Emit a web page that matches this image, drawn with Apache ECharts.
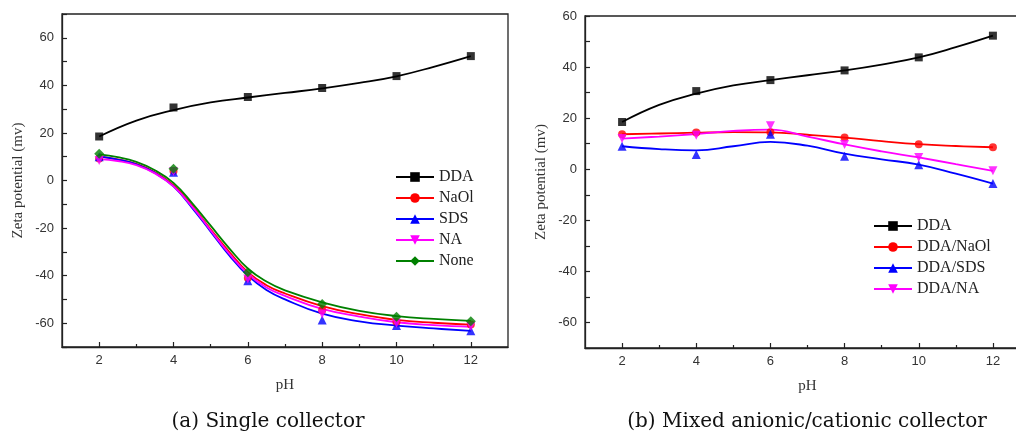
<!DOCTYPE html>
<html>
<head>
<meta charset="utf-8">
<script src="https://cdn.jsdelivr.net/npm/echarts@6/dist/echarts.min.js"></script>
<style>
html,body{margin:0;padding:0;background:#fff;}
#chart{width:1016px;height:434px;}
</style>
</head>
<body>
<div id="chart"></div>
<script>
// ---------- data ----------
const pH = [2, 4, 6, 8, 10, 12];
const xTickLabels = [2, 4, 6, 8, 10, 12];
const yTickLabels = [-60, -40, -20, 0, 20, 40, 60];

// (a) single collector: measured points
const a_DDA  = [18.5, 30.7, 35.1, 38.9, 43.9, 52.3];
const a_NaOl = [9.2, 4.0, -41.0, -54.5, -59.5, -60.5];
const a_SDS  = [10.0, 3.5, -42.1, -58.7, -61.0, -63.2];
const a_NA   = [8.4, 3.8, -41.4, -56.1, -60.0, -61.3];
const a_None = [11.2, 4.9, -38.6, -51.9, -57.3, -59.2];

// (a) fitted curves
const fitPH   = [2, 2.5, 3, 3.5, 4, 4.5, 5, 5.5, 6, 6.5, 7, 8, 9, 10, 11, 12];
const fitNone = [11.0, 9.8, 7.8, 4.3, -1.0, -9.5, -19.0, -28.5, -37.0, -42.5, -46.2, -51.2, -54.8, -57.0, -58.2, -59.0];
const fitNaOl = [10.0, 8.9, 7.0, 3.5, -2.0, -10.5, -20.5, -30.0, -38.5, -44.0, -47.5, -52.8, -56.2, -58.6, -59.8, -60.6];
const fitNA   = [9.0, 8.2, 6.5, 3.0, -2.5, -11.0, -21.0, -30.8, -39.2, -45.0, -48.5, -54.0, -57.2, -59.6, -60.8, -61.5];
const fitSDS  = [10.1, 8.8, 6.8, 3.2, -2.5, -11.5, -21.5, -31.5, -40.0, -46.0, -50.0, -56.0, -59.2, -61.0, -62.2, -63.2];

// DDA curve (both panels)
const curvePH = [2, 3, 4, 5, 6, 7, 8, 9, 10, 11, 12];
const fitDDA  = [18.5, 25.2, 29.6, 32.8, 34.9, 36.8, 38.7, 41.0, 43.8, 47.8, 52.3];

// (b) mixed collector: measured points
const b_DDA     = [18.5, 30.6, 34.9, 38.7, 43.8, 52.3];
const b_DDANaOl = [13.7, 14.4, 14.5, 12.4, 9.8, 8.6];
const b_DDASDS  = [9.0, 5.8, 13.7, 5.1, 1.8, -5.6];
const b_DDANA   = [12.0, 13.3, 17.0, 9.7, 4.6, -0.6];

// (b) curves
const fitB_NaOl = [13.7, 14.0, 14.3, 14.5, 14.4, 13.5, 12.4, 11.0, 9.8, 9.1, 8.6];
const fitB_SDS  = [9.0, 7.9, 7.4, 9.0, 10.7, 9.2, 6.1, 3.9, 1.8, -1.7, -5.6];
const fitB_NA   = [12.0, 12.8, 13.8, 15.0, 15.5, 12.8, 9.7, 7.0, 4.6, 2.0, -0.6];

const captions = ['(a) Single collector', '(b) Mixed anionic/cationic collector'];

// ---------- helpers ----------
const zip = (xs, ys) => xs.map((x, i) => [x, ys[i]]);
const AX = '#222';
const sansLabel = {color: '#333', fontFamily: 'Liberation Sans, Arial, sans-serif', fontSize: 13};
const serifName = {color: '#333', fontFamily: 'Liberation Serif, Times New Roman, serif', fontSize: 15};

function xAxes(gridIndex) {
  return [{
    type: 'value', gridIndex, min: 1, max: 13, interval: 1, position: 'bottom',
    name: 'pH', nameLocation: 'middle', nameGap: 31, nameTextStyle: serifName,
    axisLine: {show: true, onZero: false, lineStyle: {color: AX, width: 1.3}},
    axisTick: {show: true, inside: true, length: 5, customValues: xTickLabels, lineStyle: {color: AX, width: 1.2}},
    axisLabel: {show: true, margin: 7, customValues: xTickLabels, ...sansLabel,
      formatter: v => (xTickLabels.includes(v) ? String(v) : '')},
    splitLine: {show: false}
  }, {
    type: 'value', gridIndex, min: 1, max: 13, interval: 1, position: 'bottom',
    axisLine: {show: false, onZero: false},
    axisTick: {show: true, inside: true, length: 3, customValues: [3, 5, 7, 9, 11], lineStyle: {color: AX, width: 1.2}},
    axisLabel: {show: false},
    splitLine: {show: false}
  }];
}
function yAxis(gridIndex, max) {
  return {
    type: 'value', gridIndex, min: -70, max: max, interval: 10,
    name: 'Zeta potential (mv)', nameLocation: 'middle', nameGap: 36, nameRotate: 90, nameTextStyle: serifName,
    axisLine: {show: true, onZero: false, lineStyle: {color: AX, width: 1.3}},
    axisTick: {show: true, inside: true, length: 5, lineStyle: {color: AX, width: 1.2}},
    axisLabel: {margin: 8, ...sansLabel, formatter: v => (yTickLabels.includes(v) ? String(v) : '')},
    splitLine: {show: false}
  };
}

function pair(name, color, symbol, size, rotate, curveX, curveY, pts, xi, yi) {
  return [{
    name, type: 'line', xAxisIndex: xi, yAxisIndex: yi, data: zip(curveX, curveY),
    smooth: 0.45, showSymbol: false, symbol, symbolSize: size, symbolRotate: rotate,
    lineStyle: {color, width: 1.8}, itemStyle: {color}, silent: true, z: 2
  }, {
    name, type: 'scatter', xAxisIndex: xi, yAxisIndex: yi, data: zip(pH, pts),
    symbol, symbolSize: size, symbolRotate: rotate, itemStyle: {color}, z: 3
  }];
}

const seriesA = [].concat(
  pair('DDA',  '#000000', 'rect',     8,  0,   curvePH, fitDDA,  a_DDA,  0, 0),
  pair('NaOl', '#ff0000', 'circle',   8,  0,   fitPH,   fitNaOl, a_NaOl, 0, 0),
  pair('SDS',  '#0000ff', 'triangle', 9,  0,   fitPH,   fitSDS,  a_SDS,  0, 0),
  pair('NA',   '#ff00ff', 'triangle', 9,  180, fitPH,   fitNA,   a_NA,   0, 0),
  pair('None', '#008000', 'diamond',  10, 0,   fitPH,   fitNone, a_None, 0, 0)
);
const seriesB = [].concat(
  pair('DDA ',      '#000000', 'rect',     8, 0,   curvePH, fitDDA,    b_DDA,     2, 1),
  pair('DDA/NaOl',  '#ff0000', 'circle',   8, 0,   curvePH, fitB_NaOl, b_DDANaOl, 2, 1),
  pair('DDA/SDS',   '#0000ff', 'triangle', 9, 0,   curvePH, fitB_SDS,  b_DDASDS,  2, 1),
  pair('DDA/NA',    '#ff00ff', 'triangle', 9, 180, curvePH, fitB_NA,   b_DDANA,   2, 1)
);

const legendBase = {
  orient: 'vertical', itemWidth: 38, itemHeight: 12, itemGap: 5,
  textStyle: {color: '#222', fontFamily: 'Liberation Serif, Times New Roman, serif', fontSize: 16},
  selectedMode: false
};

const chart = echarts.init(document.getElementById('chart'), null, {renderer: 'canvas'});
chart.setOption({
  animation: false,
  backgroundColor: '#ffffff',
  grid: [
    {left: 62, width: 446, top: 14, height: 333, show: true, borderColor: AX, borderWidth: 1.3,
     outerBoundsMode: 'none', containLabel: false},
    {left: 585, width: 445, top: 16, height: 332, show: true, borderColor: AX, borderWidth: 1.3,
     outerBoundsMode: 'none', containLabel: false}
  ],
  xAxis: [...xAxes(0), ...xAxes(1)],
  yAxis: [yAxis(0, 70), yAxis(1, 60)],
  legend: [
    {...legendBase, left: 390, top: 164, data: ['DDA', 'NaOl', 'SDS', 'NA', 'None']},
    {...legendBase, left: 868, top: 213, data: ['DDA ', 'DDA/NaOl', 'DDA/SDS', 'DDA/NA'],
     formatter: n => n.trim()}
  ],
  graphic: [
    {type: 'text', x: 268, y: 422, style: {text: captions[0], x: 0, y: 0, align: 'center', verticalAlign: 'middle',
      fill: '#111', font: '20px "DejaVu Serif", serif'}},
    {type: 'text', x: 807, y: 422, style: {text: captions[1], x: 0, y: 0, align: 'center', verticalAlign: 'middle',
      fill: '#111', font: '20px "DejaVu Serif", serif'}}
  ],
  series: [...seriesA, ...seriesB]
});
</script>
</body>
</html>
